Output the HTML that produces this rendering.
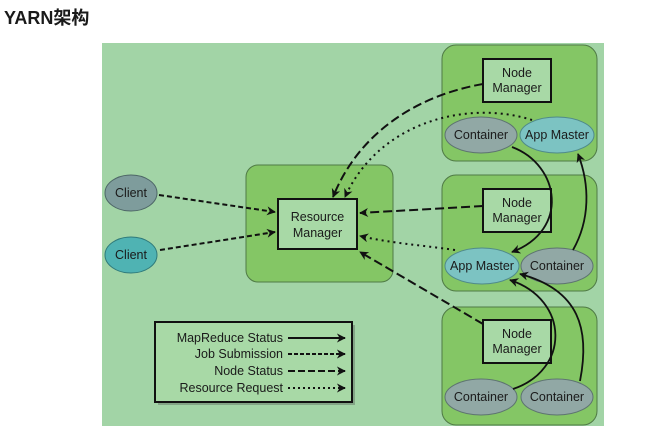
<!DOCTYPE html>
<html><head><meta charset="utf-8"><style>
body{margin:0;background:#fff;width:648px;height:430px;overflow:hidden}
svg{display:block}
text{font-family:"Liberation Sans","Noto Sans CJK SC",sans-serif;fill:#1a1a1a}
</style></head><body>
<svg width="648" height="430" viewBox="0 0 648 430">
<defs>
<marker id="ah" viewBox="0 0 10 10" refX="9" refY="5" markerWidth="9" markerHeight="9" orient="auto" markerUnits="userSpaceOnUse"><path d="M0,0 L10,5 L0,10 L3,5 Z" fill="#111"/></marker>
</defs>
<text x="4" y="24" font-size="18" font-weight="bold" style="font-family:'Liberation Sans','Noto Sans CJK SC',sans-serif" fill="#333">YARN架构</text>
<rect x="102" y="43" width="502" height="383" fill="#a2d4a6"/>
<rect x="246" y="165" width="147" height="117" rx="12" fill="#84c665" stroke="#4f7a45" stroke-width="1"/>
<rect x="278" y="199" width="79" height="50" fill="#a8d9a6" stroke="#111" stroke-width="2"/>
<text x="317.5" y="221" font-size="12.5" text-anchor="middle">Resource</text>
<text x="317.5" y="237" font-size="12.5" text-anchor="middle">Manager</text>
<g>
<rect x="442" y="45" width="155" height="116" rx="14" fill="#84c665" stroke="#4f7a45"/>
<rect x="442" y="175" width="155" height="116" rx="14" fill="#84c665" stroke="#4f7a45"/>
<rect x="442" y="307" width="155" height="118" rx="14" fill="#84c665" stroke="#4f7a45"/>
<rect x="483" y="59" width="68" height="43" fill="#a8d9a6" stroke="#111" stroke-width="2"/>
<rect x="483" y="189" width="68" height="43" fill="#a8d9a6" stroke="#111" stroke-width="2"/>
<rect x="483" y="320" width="68" height="43" fill="#a8d9a6" stroke="#111" stroke-width="2"/>
<text x="517" y="77" font-size="12.5" text-anchor="middle">Node</text><text x="517" y="92" font-size="12.5" text-anchor="middle">Manager</text>
<text x="517" y="207" font-size="12.5" text-anchor="middle">Node</text><text x="517" y="222" font-size="12.5" text-anchor="middle">Manager</text>
<text x="517" y="338" font-size="12.5" text-anchor="middle">Node</text><text x="517" y="353" font-size="12.5" text-anchor="middle">Manager</text>
<ellipse cx="481" cy="135" rx="36" ry="18" fill="#91a8a5" stroke="#5d7370"/>
<ellipse cx="557" cy="135" rx="37" ry="18" fill="#7cc3c2" stroke="#4f8a8a"/>
<ellipse cx="482" cy="266" rx="37" ry="18" fill="#7cc3c2" stroke="#4f8a8a"/>
<ellipse cx="557" cy="266" rx="36" ry="18" fill="#91a8a5" stroke="#5d7370"/>
<ellipse cx="481" cy="397" rx="36" ry="18" fill="#91a8a5" stroke="#5d7370"/>
<ellipse cx="557" cy="397" rx="36" ry="18" fill="#91a8a5" stroke="#5d7370"/>
<text x="481" y="139" font-size="12.5" text-anchor="middle">Container</text>
<text x="557" y="139" font-size="12.5" text-anchor="middle">App Master</text>
<text x="482" y="270" font-size="12.5" text-anchor="middle">App Master</text>
<text x="557" y="270" font-size="12.5" text-anchor="middle">Container</text>
<text x="481" y="401" font-size="12.5" text-anchor="middle">Container</text>
<text x="557" y="401" font-size="12.5" text-anchor="middle">Container</text>
</g>
<ellipse cx="131" cy="193" rx="26" ry="18" fill="#7e9c9c" stroke="#4d6666"/>
<ellipse cx="131" cy="255" rx="26" ry="18" fill="#4fb3b3" stroke="#2f7a7a"/>
<text x="131" y="197" font-size="12.5" text-anchor="middle">Client</text>
<text x="131" y="259" font-size="12.5" text-anchor="middle">Client</text>
<g fill="none" stroke="#111" stroke-width="2">
<path d="M159,195 L275,212" stroke-dasharray="5,3" marker-end="url(#ah)"/>
<path d="M160,250 L275,232" stroke-dasharray="5,3" marker-end="url(#ah)"/>
<path d="M483,84 C420,95 360,130 333,197" stroke-dasharray="9,4" marker-end="url(#ah)"/>
<path d="M532,120 C470,100 380,120 345,197" stroke-dasharray="2,4" marker-end="url(#ah)"/>
<path d="M483,206 L360,213" stroke-dasharray="9,4" marker-end="url(#ah)"/>
<path d="M455,250 C420,245 390,243 360,236" stroke-dasharray="2,4" marker-end="url(#ah)"/>
<path d="M483,324 L360,252" stroke-dasharray="9,4" marker-end="url(#ah)"/>
<path d="M512,147 C560,165 570,230 512,252" stroke-width="1.8" marker-end="url(#ah)"/>
<path d="M573,250 C590,220 590,185 578,154" stroke-width="1.8" marker-end="url(#ah)"/>
<path d="M513,389 C570,370 570,300 510,280" stroke-width="1.8" marker-end="url(#ah)"/>
<path d="M580,381 C590,330 580,290 520,274" stroke-width="1.8" marker-end="url(#ah)"/>
</g>
<rect x="158" y="325" width="197" height="80" fill="#4a4a4a" opacity="0.35"/>
<rect x="155" y="322" width="197" height="80" fill="#a8d9a6" stroke="#111" stroke-width="2"/>
<g font-size="12.5" text-anchor="end">
<text x="283" y="342">MapReduce Status</text>
<text x="283" y="358">Job Submission</text>
<text x="283" y="375">Node Status</text>
<text x="283" y="392">Resource Request</text>
</g>
<g fill="none" stroke="#111" stroke-width="2">
<path d="M288,338 L345,338" marker-end="url(#ah)"/>
<path d="M288,354 L345,354" stroke-dasharray="4,2" marker-end="url(#ah)"/>
<path d="M288,371 L345,371" stroke-dasharray="7,3" marker-end="url(#ah)"/>
<path d="M288,388 L345,388" stroke-dasharray="2,3" marker-end="url(#ah)"/>
</g>
</svg>
</body></html>
